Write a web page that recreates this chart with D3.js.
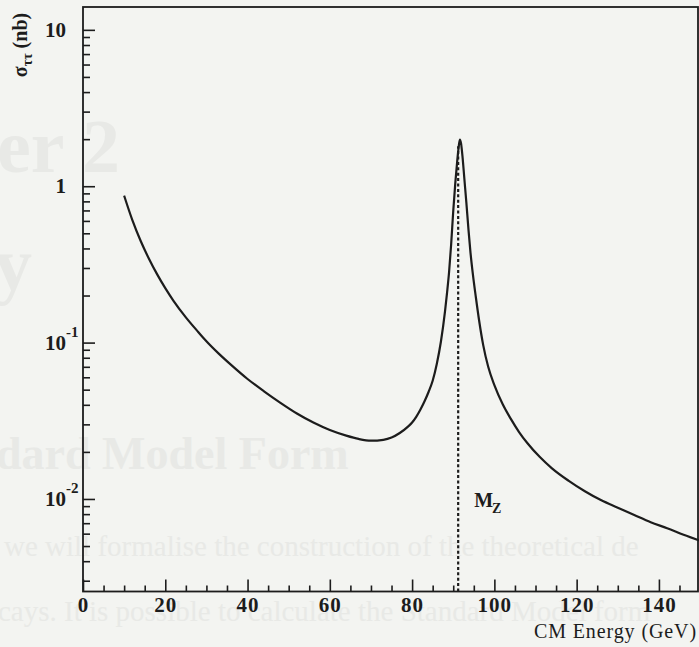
<!DOCTYPE html>
<html>
<head>
<meta charset="utf-8">
<script src="https://cdn.jsdelivr.net/npm/d3@7"></script>
<style>
  html, body { margin: 0; padding: 0; background: #f3f4f1; }
  svg { display: block; }
  text { font-family: "Liberation Serif", "Times New Roman", serif; }
</style>
</head>
<body>
<svg id="chart" width="699" height="647"></svg>
<script>
// DATA
var energy = [10, 12, 14, 16, 18, 20, 22, 25, 28, 30, 33, 36, 40, 44, 48, 52, 56, 60, 64, 67, 70, 73, 75, 77, 79, 80, 81, 82, 83, 84, 85, 86, 87, 88, 88.5, 89, 89.5, 90, 90.5, 91, 91.3, 91.6, 91.9, 92.3, 92.7, 93.2, 93.7, 94.2, 94.8, 95.5, 96.3, 97.3, 98.5, 100, 102, 104, 106, 108, 111, 114, 118, 122, 126, 130, 134, 138, 142, 146, 150];
var sigma = [0.870, 0.607, 0.448, 0.345, 0.274, 0.223, 0.185, 0.145, 0.117, 0.102, 0.0850, 0.0720, 0.0585, 0.0488, 0.0412, 0.0352, 0.0308, 0.0276, 0.0254, 0.0242, 0.0236, 0.0239, 0.0247, 0.0264, 0.0290, 0.0308, 0.0335, 0.0372, 0.0420, 0.0483, 0.0570, 0.0730, 0.1012, 0.1585, 0.209, 0.285, 0.427, 0.692, 1.047, 1.479, 1.758, 1.99, 1.88, 1.50, 1.12, 0.78, 0.53, 0.375, 0.27, 0.195, 0.138, 0.096, 0.070, 0.0535, 0.0405, 0.0325, 0.0268, 0.0228, 0.0186, 0.0157, 0.0131, 0.0112, 0.0098, 0.0088, 0.0079, 0.0071, 0.0065, 0.0059, 0.0054];
var mZ = 91.2;
var mZsigma = 1.8;

var xMajorTicks = [0, 20, 40, 60, 80, 100, 120, 140];
var yMajorTicks = [0.01, 0.1, 1, 10];
var yTickLabels = [["10", "-2"], ["10", "-1"], ["1", ""], ["10", ""]];

// faint show-through text from the other side of the scanned page
var ghostText = [
  { t: "er 2", x: -3, y: 172, size: 76, bold: true },
  { t: "y", x: -6, y: 290, size: 76, bold: true },
  { t: "dard Model Form", x: -4, y: 469, size: 46, bold: true },
  { t: "we will formalise the construction of the theoretical de", x: 4, y: 556, size: 29, bold: false },
  { t: "cays. It is possible to calculate the Standard Model form", x: -2, y: 621, size: 29, bold: false }
];

var ink = "#1c1c1c";
var svg = d3.select("#chart");

svg.append("rect").attr("width", 699).attr("height", 647).attr("fill", "#f3f4f1");

svg.append("g").selectAll("text").data(ghostText).enter().append("text")
  .attr("x", function(d){ return d.x; })
  .attr("y", function(d){ return d.y; })
  .attr("font-size", function(d){ return d.size; })
  .attr("font-weight", function(d){ return d.bold ? "bold" : "normal"; })
  .attr("fill", "#e8e9e6")
  .text(function(d){ return d.t; });

// SCALES
var x = d3.scaleLinear().domain([0, 149.5]).range([83, 698]);
var y = d3.scaleLog().domain([0.00256, 14]).range([591.5, 7]);

// frame
svg.append("rect")
  .attr("x", x(0)).attr("y", y(14))
  .attr("width", x(149.5) - x(0)).attr("height", y(0.00256) - y(14))
  .attr("fill", "none").attr("stroke", ink).attr("stroke-width", 1.8);

// x axis, ticks pointing into the plot
var xMinor = d3.range(0, 150, 5).filter(function(d){ return d % 20 !== 0; });
svg.append("g").attr("transform", "translate(0," + y(0.00256) + ")")
  .call(d3.axisBottom(x).tickValues(xMinor).tickSize(-6).tickFormat(""))
  .call(function(g){ g.select(".domain").remove(); });
svg.append("g").attr("transform", "translate(0," + y(0.00256) + ")")
  .call(d3.axisBottom(x).tickValues(xMajorTicks).tickSize(-12).tickPadding(6).tickFormat(d3.format("d")))
  .call(function(g){ g.select(".domain").remove(); })
  .call(function(g){
    g.selectAll("text").attr("font-family", "Liberation Serif, serif").attr("font-size", 21)
      .attr("font-weight", "bold").attr("fill", ink).attr("letter-spacing", 1);
  });
svg.selectAll(".tick line").attr("stroke", ink).attr("stroke-width", 1.6);

// y axis, log scale
var yMinor = [];
[0.001, 0.01, 0.1, 1].forEach(function(dec){
  for (var k = 2; k <= 9; k++) {
    var v = dec * k;
    if (v > 0.00256 && v < 14) yMinor.push(v);
  }
});
svg.append("g").attr("transform", "translate(" + x(0) + ",0)")
  .call(d3.axisLeft(y).tickValues(yMinor).tickSize(-7).tickFormat(""))
  .call(function(g){ g.select(".domain").remove(); });
svg.append("g").attr("transform", "translate(" + x(0) + ",0)")
  .call(d3.axisLeft(y).tickValues(yMajorTicks).tickSize(-12).tickFormat(""))
  .call(function(g){ g.select(".domain").remove(); });
svg.selectAll(".tick line").attr("stroke", ink).attr("stroke-width", 1.6);

var yLab = svg.append("g");
yMajorTicks.forEach(function(v, i){
  var lab = yTickLabels[i];
  yLab.append("text")
    .attr("x", 66).attr("y", y(v) + 7)
    .attr("text-anchor", "end")
    .attr("font-size", 21).attr("font-weight", "bold").attr("fill", ink)
    .text(lab[0]);
  if (lab[1] !== "") {
    yLab.append("text")
      .attr("x", 66).attr("y", y(v) - 6)
      .attr("font-size", 15).attr("font-weight", "bold").attr("fill", ink)
      .text(lab[1]);
  }
});

// y title: sigma_tautau (nb)
var yt = svg.append("text")
  .attr("transform", "translate(27,45) rotate(-90)")
  .attr("text-anchor", "middle")
  .attr("font-size", 20).attr("font-weight", "bold").attr("fill", ink);
yt.append("tspan").text("σ");
yt.append("tspan").attr("font-size", 14).attr("dy", 5).text("ττ");
yt.append("tspan").attr("dy", -5).text(" (nb)");

// x title
svg.append("text")
  .attr("x", 697).attr("y", 638)
  .attr("text-anchor", "end")
  .attr("font-size", 20).attr("letter-spacing", 0.9).attr("fill", ink)
  .text("CM Energy (GeV)");

// M_Z marker
svg.append("line")
  .attr("x1", x(mZ)).attr("x2", x(mZ))
  .attr("y1", y(0.00256)).attr("y2", y(mZsigma))
  .attr("stroke", ink).attr("stroke-width", 2.2).attr("stroke-dasharray", "3,2.4");

var mz = svg.append("text")
  .attr("x", x(mZ) + 16).attr("y", 507)
  .attr("font-size", 20).attr("font-weight", "bold").attr("fill", ink);
mz.append("tspan").text("M");
mz.append("tspan").attr("font-size", 14).attr("dy", 6).attr("dx", -1).text("Z");

// cross-section curve
var points = energy.map(function(e, i){ return [e, sigma[i]]; });
var line = d3.line()
  .x(function(d){ return x(d[0]); })
  .y(function(d){ return y(d[1]); })
  .curve(d3.curveMonotoneX);

svg.append("path")
  .datum(points)
  .attr("d", line)
  .attr("fill", "none")
  .attr("stroke", ink)
  .attr("stroke-width", 2.2)
  .attr("stroke-linejoin", "round");
</script>
</body>
</html>
